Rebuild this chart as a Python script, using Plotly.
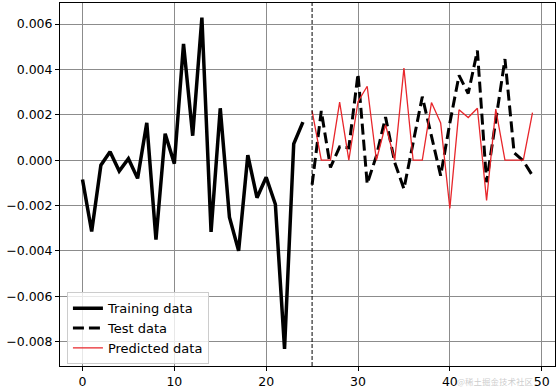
import plotly.graph_objects as go

train_x = list(range(0, 25))
train_y = [-0.00085, -0.00314, -0.00022, 0.00037, -0.00048, 0.00007, -0.00080, 0.00165,
           -0.00350, 0.00117, -0.00015, 0.00513, 0.00108, 0.00629, -0.00316, 0.00229,
           -0.00251, -0.00399, 0.00022, -0.00165, -0.00075, -0.00194, -0.00832, 0.00072,
           0.00168]

test_x = list(range(25, 50))
test_y = [-0.00108, 0.00217, -0.00032, 0.00059, 0.00055, 0.00381, -0.00104, 0.00019,
          0.00190, -0.00010, -0.00126, 0.00077, 0.00280, 0.00106, -0.00068, 0.00164,
          0.00374, 0.00294, 0.00483, -0.00097, 0.00164, 0.00446, 0.00033, -0.00003,
          -0.00068]

pred_y = [0.00217, 0.0, 0.0, 0.00256, 0.0, 0.00258, 0.00326, 0.0, 0.00156, 0.0,
          0.00406, 0.0, 0.0, 0.00254, 0.00164, -0.00213, 0.00222, 0.00188, 0.00229,
          -0.00177, 0.00225, 0.0, 0.0, 0.0, 0.00210]

split_x = 25

x_ticks = [0, 10, 20, 30, 40, 50]
y_ticks = [-0.008, -0.006, -0.004, -0.002, 0.0, 0.002, 0.004, 0.006]
y_labels = ["\u22120.008", "\u22120.006", "\u22120.004", "\u22120.002", "0.000", "0.002", "0.004", "0.006"]

fig = go.Figure()
fig.add_trace(go.Scatter(x=train_x, y=train_y, mode="lines", name="Training data",
                         line=dict(color="black", width=3.5)))
fig.add_trace(go.Scatter(x=test_x, y=test_y, mode="lines", name="Test data",
                         line=dict(color="black", width=3, dash="11px,5px")))
fig.add_trace(go.Scatter(x=test_x, y=pred_y, mode="lines", name="Predicted data",
                         line=dict(color="#e8262b", width=1.3)))

fig.add_vline(x=split_x, line=dict(color="black", width=1, dash="4px,2px"))

fig.add_annotation(text="@稀土掘金技术社区", xref="paper", yref="paper", x=0.88, y=-0.018,
                   xanchor="center", yanchor="top", showarrow=False,
                   font=dict(family="Noto Sans CJK SC", size=8.5, color="rgba(170,170,170,0.6)"))

axis_common = dict(showline=True, linecolor="black", linewidth=1, mirror=True,
                   ticks="outside", ticklen=4, tickcolor="black", tickwidth=1,
                   showgrid=True, gridcolor="#8c8c8c", gridwidth=1, zeroline=False,
                   tickfont=dict(family="DejaVu Sans", size=12.5, color="black"))

fig.update_xaxes(range=[-2.45, 51.45], tickvals=x_ticks, **axis_common)
fig.update_yaxes(range=[-0.00907, 0.00693], tickvals=y_ticks, ticktext=y_labels, **axis_common)

fig.update_layout(
    width=558, height=391,
    margin=dict(l=60, r=3, t=2, b=21),
    plot_bgcolor="white", paper_bgcolor="white",
    showlegend=True,
    legend=dict(x=0.014, y=0.005, xanchor="left", yanchor="bottom",
                bgcolor="rgba(255,255,255,0.8)", bordercolor="#cccccc", borderwidth=1,
                font=dict(family="DejaVu Sans", size=13, color="black"),
                itemwidth=30, tracegroupgap=0),
)

fig.write_html("out.html")
